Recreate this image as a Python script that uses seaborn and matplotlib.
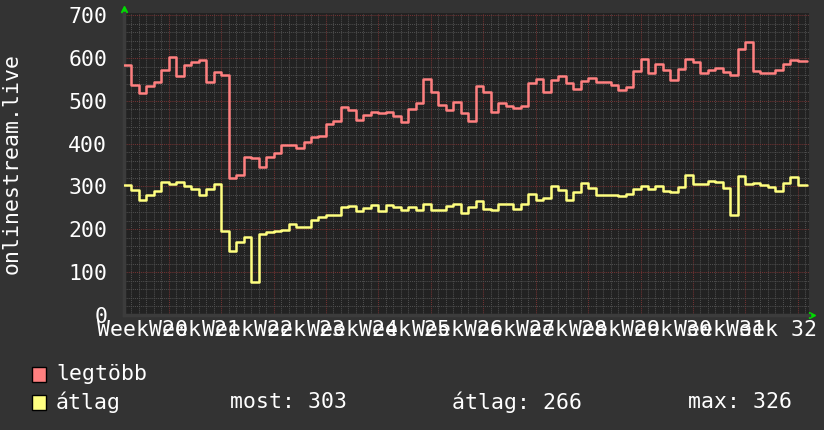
import numpy as np
import matplotlib
matplotlib.use("Agg")
import matplotlib.pyplot as plt
import matplotlib.transforms as mtransforms
from matplotlib.patches import Rectangle
from matplotlib.ticker import MultipleLocator, NullFormatter
import seaborn as sns

# daily samples, day 0 = first day of week 20
days = np.arange(-6, 86)
now_day = 85.2

legtobb = [584, 538, 518, 534, 543, 571,
           602, 557, 583, 590, 596, 545, 568,
           560, 320, 326, 368, 366, 345, 368,
           378, 398, 398, 391, 403, 415, 417,
           446, 454, 485, 478, 456, 468, 475,
           471, 475, 465, 450, 482, 495, 552,
           520, 491, 478, 497, 471, 454, 535,
           520, 473, 496, 487, 484, 487, 542,
           552, 521, 549, 557, 541, 528, 547,
           554, 543, 543, 536, 526, 533, 570,
           598, 566, 585, 573, 548, 575, 598,
           590, 565, 571, 576, 567, 560, 622,
           637, 569, 564, 564, 571, 586, 596,
           592, 592]

atlag = [304, 291, 269, 281, 289, 310,
         306, 310, 300, 293, 281, 293, 306,
         195, 149, 170, 181, 76, 189, 193,
         195, 199, 212, 205, 205, 221, 228,
         233, 233, 251, 254, 242, 250, 256,
         242, 256, 252, 244, 251, 244, 258,
         246, 246, 254, 258, 237, 251, 267,
         248, 244, 260, 258, 248, 260, 283,
         269, 272, 300, 291, 268, 287, 307,
         296, 281, 281, 279, 277, 283, 295,
         302, 293, 302, 289, 286, 299, 326,
         306, 306, 312, 310, 296, 233, 324,
         306, 308, 303, 298, 289, 308, 322,
         303, 303]

weeks = list(range(20, 33))
week_labels = [f"Week {w}" for w in weeks]
stats = {"most": 303, "átlag": 266, "max": 326}

RED = "#ff8080"
YELLOW = "#ffff80"
CANVAS = "#333333"
PLOT_BG = "#222222"
FONT = "DejaVu Sans Mono"
FS = 15.5

sns.set_style("dark")
plt.rcParams["font.family"] = [FONT, "DejaVu Sans"]

fig = plt.figure(figsize=(8.24, 4.30), dpi=100, facecolor=CANVAS)
ax = fig.add_axes([124 / 824, 115 / 430, 685 / 824, 302 / 430])
ax.set_facecolor(PLOT_BG)

# step series, extended to the current time
t = np.append(days, now_day)
for vals, col in [(legtobb, RED), (atlag, YELLOW)]:
    v = np.append(vals, vals[-1])
    sns.lineplot(x=t, y=v, drawstyle="steps-post", color=col,
                 linewidth=1.8, ax=ax, zorder=3)

ax.set_xlim(-5.97, 85.5)
ax.set_ylim(0, 705)

# grid: daily / 20 minor, weekly / 100 major
ax.xaxis.set_major_locator(MultipleLocator(7))
ax.xaxis.set_minor_locator(MultipleLocator(1))
ax.xaxis.set_major_formatter(NullFormatter())
ax.yaxis.set_major_locator(MultipleLocator(100))
ax.yaxis.set_minor_locator(MultipleLocator(20))
ax.grid(which="minor", color="#4e4e4e", linestyle=(0, (1, 1)), linewidth=0.75)
ax.grid(which="major", color="#733232", linestyle=(0, (1, 1)), linewidth=0.75)
ax.set_axisbelow(True)
ax.tick_params(which="both", length=0)
ax.tick_params(axis="y", pad=12, labelsize=FS, labelcolor="white")

for s in ["top", "right"]:
    ax.spines[s].set_visible(False)
for s in ["left", "bottom"]:
    ax.spines[s].set_color("#3c3c3c")
    ax.spines[s].set_linewidth(2.5)

# week labels centred in each week
trans = mtransforms.blended_transform_factory(ax.transData, fig.transFigure)
for w, lab in zip(weeks, week_labels):
    ax.text(7 * (w - 20) - 3.5, 1 - 330 / 430, lab, transform=trans,
            ha="center", va="center", fontsize=FS, color="white",
            family=FONT, clip_on=False)

# axis arrows
ax.plot([0], [1.012], marker="^", color="#00dd00", markersize=4,
        transform=ax.transAxes, clip_on=False)
ax.plot([1.004], [0.0], marker=">", color="#00dd00", markersize=4,
        transform=ax.transAxes, clip_on=False)

fig.text(12 / 824, 1 - 164 / 430, "onlinestream.live", rotation=90,
         ha="center", va="center", fontsize=FS, color="white", family=FONT)

# legend
for y, col, lab in [(374, RED, "legtöbb"), (402, YELLOW, "átlag")]:
    fig.patches.append(Rectangle((32 / 824, 1 - (y + 7.5) / 430), 14 / 824,
                                 15 / 430, transform=fig.transFigure,
                                 facecolor=col, edgecolor="black", linewidth=1))
    fig.text(56 / 824, 1 - y / 430, lab, ha="left", va="center",
             fontsize=FS, color="white", family=FONT)

fig.text(230 / 824, 1 - 402 / 430, f"most: {stats['most']}", ha="left",
         va="center", fontsize=FS, color="white", family=FONT)
fig.text(452 / 824, 1 - 402 / 430, f"átlag: {stats['átlag']}", ha="left",
         va="center", fontsize=FS, color="white", family=FONT)
fig.text(688 / 824, 1 - 402 / 430, f"max: {stats['max']}", ha="left",
         va="center", fontsize=FS, color="white", family=FONT)

fig.savefig("out.png", dpi=100, facecolor=CANVAS)
